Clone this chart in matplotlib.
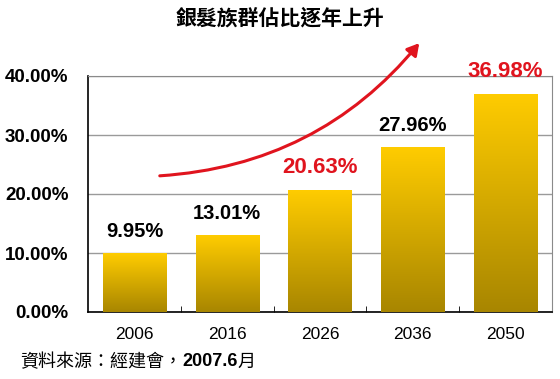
import numpy as np
import matplotlib.pyplot as plt
from matplotlib.colors import LinearSegmentedColormap
from matplotlib.patches import FancyArrowPatch

# datos
anios = ["2006", "2016", "2026", "2036", "2050"]
porcentajes = [9.95, 13.01, 20.63, 27.96, 36.98]
destacados = [False, False, True, False, True]
yticks = [0, 10, 20, 30, 40]

titulo = "銀髮族群佔比逐年上升"
fuente_pre = "資料來源：經建會，"
fuente_num = "2007.6"
fuente_post = "月"

cjk = ["Noto Sans CJK TC", "DejaVu Sans"]
num = ["Liberation Sans", "Noto Sans CJK TC"]

fig = plt.figure(figsize=(5.6, 3.79), dpi=100)
ax = fig.add_axes([88 / 560, 1 - 312 / 379, (552 - 88) / 560, (312 - 76) / 379])

x = np.arange(len(anios))
ancho = 0.68
cmap = LinearSegmentedColormap.from_list("oro", ["#A88600", "#FFCC00"])
grad = np.linspace(0, 1, 256).reshape(-1, 1)

barras = ax.bar(x, porcentajes, width=ancho, color="none", edgecolor="none", zorder=3)
for b in barras:
    x0, w, h = b.get_x(), b.get_width(), b.get_height()
    im = ax.imshow(grad, cmap=cmap, aspect="auto", origin="lower",
                   extent=[x0, x0 + w, 0, h], zorder=3)
    im.set_clip_path(b)

for xi, v, red in zip(x, porcentajes, destacados):
    ax.text(xi, v + 2.0, f"{v:.2f}%", ha="center", va="bottom",
            fontsize=16 if red else 14.5, fontweight="bold", family=num,
            color="#E0141E" if red else "black", zorder=5)

ax.set_xlim(-0.5, len(anios) - 0.5)
ax.set_ylim(0, 40)
ax.set_yticks(yticks)
ax.set_yticklabels([f"{t:.2f}%" for t in yticks], fontsize=13.5,
                   fontweight="bold", family=num)
ax.set_xticks(x)
ax.set_xticklabels(anios, fontsize=12.5, family=num)
ax.set_xticks(np.arange(0.5, len(anios) - 1, 1), minor=True)
ax.tick_params(axis="x", which="major", length=0, pad=11)
ax.tick_params(axis="x", which="minor", direction="in", length=4, color="black")
ax.tick_params(axis="y", length=0, pad=14)

ax.grid(axis="y", color="#9a9a9a", linewidth=1, zorder=1)
ax.set_axisbelow(True)
for lado in ["top", "right"]:
    ax.spines[lado].set_color("#8a8a8a")
for lado in ["left", "bottom"]:
    ax.spines[lado].set_color("black")
    ax.spines[lado].set_linewidth(1.2)

# flecha de tendencia
flecha = FancyArrowPatch((157 / 560, 1 - 176 / 379), (421 / 560, 1 - 41 / 379),
                         transform=fig.transFigure,
                         connectionstyle="arc3,rad=0.22",
                         arrowstyle="-|>,head_length=7,head_width=4",
                         color="#E0141E", linewidth=2.2, zorder=6)
fig.patches.append(flecha)

fig.text(0.5, 1 - 18 / 379, titulo, ha="center", va="center",
         fontsize=15, fontweight="bold", family=cjk)

# fuente en partes (el número va en negrita)
r = fig.canvas.get_renderer()
t1 = fig.text(20 / 560, 1 - 362 / 379, fuente_pre, ha="left", va="center",
              fontsize=13, family=cjk)
x1 = t1.get_window_extent(r).x1 / fig.bbox.width
t2 = fig.text(x1, 1 - 362 / 379, fuente_num, ha="left", va="center",
              fontsize=13, fontweight="bold", family=num)
x2 = t2.get_window_extent(r).x1 / fig.bbox.width
fig.text(x2, 1 - 362 / 379, fuente_post, ha="left", va="center",
         fontsize=13, family=cjk)

plt.savefig("out.png", dpi=100)
